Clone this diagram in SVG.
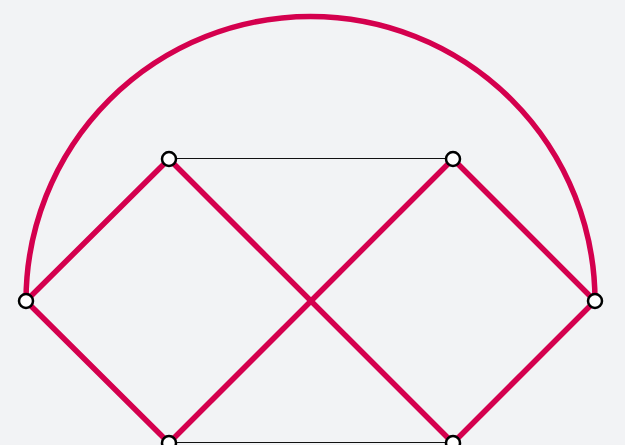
<svg xmlns="http://www.w3.org/2000/svg" width="625" height="445" viewBox="0 0 625 445">
<style>
.bg{fill:#f2f3f5}
.red{stroke:#d4004e;stroke-width:5.5;fill:none;stroke-linecap:round}
.thin{stroke:#111;stroke-width:1;fill:none}
.node{fill:#fff;stroke:#000;stroke-width:2.5}
</style>
<rect class="bg" x="0" y="0" width="625" height="445"/>
<g id="connectors">
<path class="red" d="M26,301 A284.5,284.5 0 0 1 595,301"/>
<line class="red" x1="26" y1="301" x2="169" y2="159"/>
<line class="red" x1="26" y1="301" x2="169" y2="443"/>
<line class="red" x1="169" y1="159" x2="453" y2="443"/>
<line class="red" x1="453" y1="159" x2="169" y2="443"/>
<line class="red" x1="453" y1="159" x2="595" y2="301"/>
<line class="red" x1="595" y1="301" x2="453" y2="443"/>
<line class="thin" x1="169" y1="158.5" x2="453" y2="158.5"/>
<line class="thin" x1="169" y1="442.5" x2="453" y2="442.5"/>
</g>
<g id="n1"><circle class="node" cx="26" cy="301" r="7"/></g>
<g id="n2"><circle class="node" cx="169" cy="159" r="7"/></g>
<g id="n3"><circle class="node" cx="453" cy="159" r="7"/></g>
<g id="n4"><circle class="node" cx="595" cy="301" r="7"/></g>
<g id="n5"><circle class="node" cx="169" cy="443" r="7"/></g>
<g id="n6"><circle class="node" cx="453" cy="443" r="7"/></g>
</svg>
